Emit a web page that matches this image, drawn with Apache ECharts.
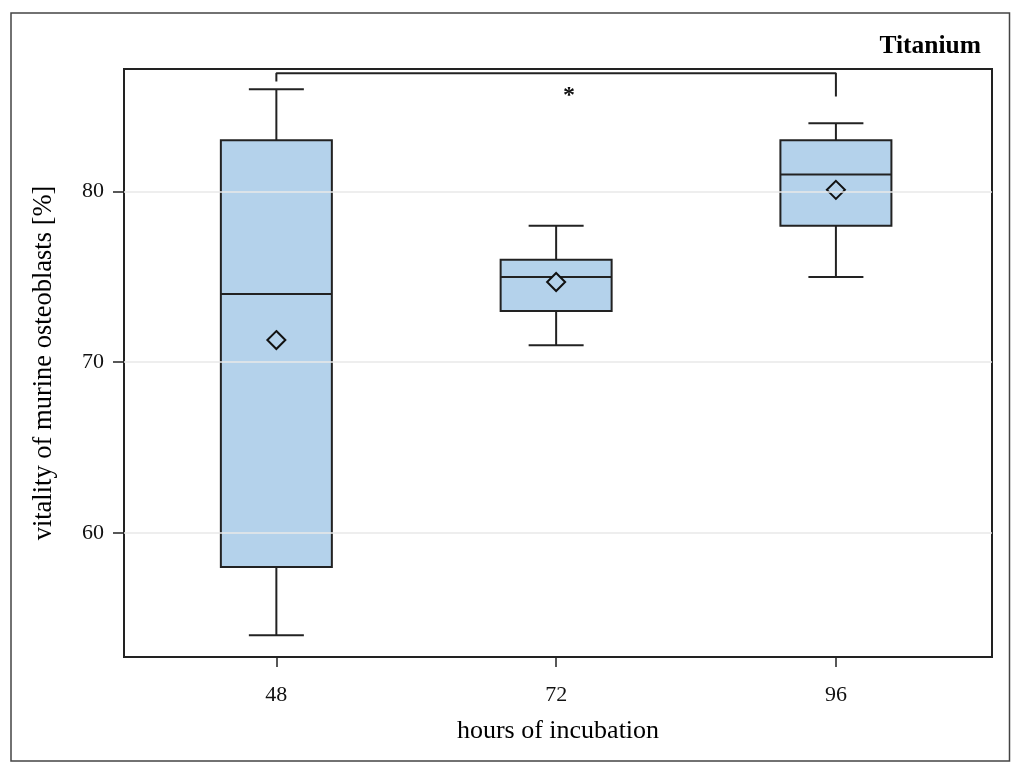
<!DOCTYPE html>
<html>
<head>
<meta charset="utf-8">
<script src="https://cdn.jsdelivr.net/npm/echarts@6/dist/echarts.min.js"></script>
<style>html,body{margin:0;padding:0;background:#fff}#c{width:1024px;height:775px}</style>
</head>
<body>
<div id="c"></div>
<script>
// ---- data ----
const hours = [48, 72, 96];
const whiskerLow = [54, 71, 75];
const q1 = [58, 73, 78];
const medians = [74, 75, 81];
const q3 = [83, 76, 83];
const whiskerHigh = [86, 78, 84];
const means = [71.3, 74.7, 80.1];
const yTicks = [60, 70, 80];
const xTicks = [48, 72, 96];
// significance bracket between 48 h and 96 h
const bracketX = [48, 48, 96, 96];
const bracketY = [86.45, 86.93, 86.93, 85.57];
const starPos = [73.1, 85.62];
const starText = '*';

const FONT = '"Liberation Serif", "DejaVu Serif", serif';
const INK = '#222';
const BOX = '#b4d2eb';

const boxData = hours.map((h, i) => [h, whiskerLow[i], q1[i], medians[i], q3[i], whiskerHigh[i]]);

const chart = echarts.init(document.getElementById('c'));
chart.setOption({
  animation: false,
  backgroundColor: '#fff',
  grid: {
    left: 124, top: 69, right: 32, bottom: 118,
    show: true, borderColor: INK, borderWidth: 2, backgroundColor: 'transparent'
  },
  graphic: [
    { type: 'rect', shape: { x: 11, y: 13, width: 998.5, height: 748 },
      style: { fill: 'none', stroke: '#444', lineWidth: 1.5 }, silent: true, z: -1 },
    { type: 'text', x: 981, y: 46, silent: true,
      style: { text: 'Titanium', font: 'bold 25.5px ' + FONT, fill: '#000', textAlign: 'right', textVerticalAlign: 'middle' } }
  ],
  xAxis: {
    type: 'value', min: 34.93, max: 109.39,
    name: 'hours of incubation', nameLocation: 'middle', nameGap: 61,
    nameTextStyle: { fontFamily: FONT, fontSize: 26, color: '#000' },
    axisLine: { show: true, lineStyle: { color: INK, width: 2 } },
    axisTick: { show: true, length: 10, lineStyle: { color: INK, width: 1.5 }, customValues: xTicks },
    axisLabel: { customValues: xTicks, margin: 27, fontFamily: FONT, fontSize: 22, color: '#111' },
    splitLine: { show: false }
  },
  yAxis: {
    type: 'value', min: 52.73, max: 87.18,
    name: 'vitality of murine osteoblasts [%]', nameLocation: 'middle', nameGap: 66,
    nameTextStyle: { fontFamily: FONT, fontSize: 26.5, color: '#000' },
    axisLine: { show: true, lineStyle: { color: INK, width: 2 } },
    axisTick: { show: true, length: 11, lineStyle: { color: INK, width: 1.5 }, customValues: yTicks },
    axisLabel: { customValues: yTicks, margin: 20, fontFamily: FONT, fontSize: 22, color: '#111' },
    splitLine: { show: false }
  },
  series: [
    {
      type: 'line', data: [], silent: true,
      markLine: {
        silent: true, symbol: 'none', label: { show: false },
        lineStyle: { color: '#e8e8e8', width: 1.5, type: 'solid' },
        data: yTicks.map(v => ({ yAxis: v }))
      },
      z: 1
    },
    {
      type: 'custom',
      data: boxData,
      z: 3,
      renderItem: function (params, api) {
        const x = api.value(0);
        const pLow = api.coord([x, api.value(1)]);
        const pQ1 = api.coord([x, api.value(2)]);
        const pMed = api.coord([x, api.value(3)]);
        const pQ3 = api.coord([x, api.value(4)]);
        const pHigh = api.coord([x, api.value(5)]);
        const cx = pLow[0];
        const bw = 111, cw = 55;
        const ls = { stroke: INK, lineWidth: 2, fill: null };
        return {
          type: 'group',
          children: [
            { type: 'line', shape: { x1: cx, y1: pHigh[1], x2: cx, y2: pQ3[1] }, style: ls },
            { type: 'line', shape: { x1: cx, y1: pQ1[1], x2: cx, y2: pLow[1] }, style: ls },
            { type: 'line', shape: { x1: cx - cw / 2, y1: pHigh[1], x2: cx + cw / 2, y2: pHigh[1] }, style: ls },
            { type: 'line', shape: { x1: cx - cw / 2, y1: pLow[1], x2: cx + cw / 2, y2: pLow[1] }, style: ls },
            { type: 'rect', shape: { x: cx - bw / 2, y: pQ3[1], width: bw, height: pQ1[1] - pQ3[1] },
              style: { fill: BOX, stroke: INK, lineWidth: 2 } },
            { type: 'line', shape: { x1: cx - bw / 2, y1: pMed[1], x2: cx + bw / 2, y2: pMed[1] }, style: ls }
          ]
        };
      }
    },
    {
      type: 'scatter',
      data: hours.map((h, i) => [h, means[i]]),
      symbol: 'diamond', symbolSize: [18, 18],
      itemStyle: { color: BOX, borderColor: '#111', borderWidth: 2, opacity: 1 },
      z: 4, silent: true
    },
    {
      type: 'line',
      data: bracketX.map((x, i) => [x, bracketY[i]]),
      symbol: 'none', silent: true,
      lineStyle: { color: INK, width: 2 },
      z: 4
    },
    {
      type: 'custom',
      data: [starPos],
      silent: true, z: 4,
      renderItem: function (params, api) {
        const p = api.coord([api.value(0), api.value(1)]);
        return {
          type: 'text', x: p[0], y: p[1],
          style: { text: starText, font: 'bold 24px ' + FONT, fill: '#111', align: 'center', verticalAlign: 'middle' }
        };
      }
    }
  ]
});
</script>
</body>
</html>
